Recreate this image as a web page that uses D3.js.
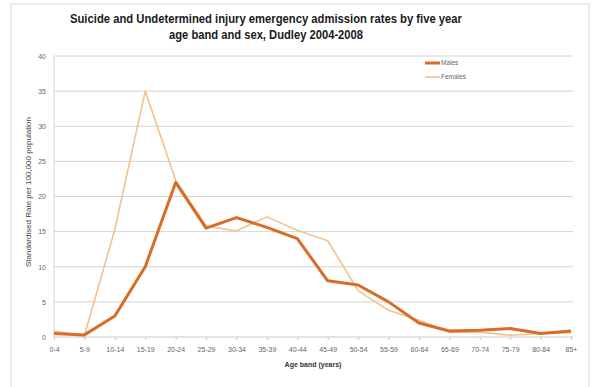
<!DOCTYPE html>
<html><head><meta charset="utf-8">
<script src="https://cdn.jsdelivr.net/npm/d3@7"></script>
<style>body{margin:0;background:#fff}svg{display:block;font-family:"Liberation Sans",Arial,sans-serif}</style>
</head><body>
<svg id="c" width="595" height="387"></svg>
<script>
const categories = ["0-4","5-9","10-14","15-19","20-24","25-29","30-34","35-39","40-44","45-49","50-54","55-59","60-64","65-69","70-74","75-79","80-84","85+"];
const males   = [0.5,0.3,3,10,22,15.5,17,15.6,14,8,7.4,5,2,0.85,0.95,1.2,0.5,0.85];
const females = [0.8,0.2,15.3,35,22.3,15.8,15.1,17.1,15.2,13.7,6.6,3.8,2.4,0.7,0.7,0.25,0.5,0.6];
const yTicks = [0,5,10,15,20,25,30,35,40];
const seriesNames = ["Males","Females"];

const svg = d3.select("#c");
svg.append("rect").attr("x",11).attr("y",4).attr("width",578).attr("height",386)
  .attr("fill","#fff").attr("stroke","#d9d9d9").attr("stroke-width",1);

const x = d3.scalePoint().domain(categories).range([54,571]);
const y = d3.scaleLinear().domain([0,40]).range([337,56]);

svg.append("g").selectAll("line").data(yTicks.filter(d=>d>0)).join("line")
  .attr("x1",54).attr("x2",573).attr("y1",d=>y(d)).attr("y2",d=>y(d))
  .attr("stroke","#d4d4d4").attr("stroke-width",1);
svg.append("line").attr("x1",54).attr("x2",54).attr("y1",y(40)).attr("y2",y(0)).attr("stroke","#d4d4d4");

const ya = svg.append("g").attr("transform","translate(54,0)")
  .call(d3.axisLeft(y).tickValues(yTicks).tickSize(0).tickPadding(8));
ya.select(".domain").remove();
ya.selectAll("text").attr("fill","#666").attr("font-size",7).attr("font-family","Liberation Sans, Arial, sans-serif");

const xa = svg.append("g").attr("transform","translate(0,337)")
  .call(d3.axisBottom(x).tickSize(3).tickPadding(7));
xa.select(".domain").attr("stroke","#c8c8c8").attr("d","M54,0H573");
xa.selectAll(".tick line").attr("stroke","#c8c8c8");
xa.selectAll("text").attr("fill","#666").attr("font-size",7).attr("font-family","Liberation Sans, Arial, sans-serif");

const line = d3.line().x((d,i)=>x(categories[i])).y(d=>y(d));
svg.append("path").datum(females).attr("d",line).attr("fill","none")
  .attr("stroke","#f5c08c").attr("stroke-width",1.6).attr("stroke-linejoin","round");
svg.append("path").datum(males).attr("d",line).attr("fill","none")
  .attr("stroke","#d76d26").attr("stroke-width",3).attr("stroke-linejoin","round");

const lg = svg.append("g");
[[63,"#d76d26",3],[77,"#f5c08c",1.6]].forEach((s,i)=>{
  lg.append("line").attr("x1",425).attr("x2",440).attr("y1",s[0]).attr("y2",s[0]).attr("stroke",s[1]).attr("stroke-width",s[2]);
  lg.append("text").attr("x",441).attr("y",s[0]+2.3).attr("font-size",6.5).attr("fill","#666").text(seriesNames[i]);
});

const t1 = svg.append("text").attr("x",266).attr("y",23).attr("text-anchor","middle")
  .attr("font-size",12).attr("font-weight","bold").attr("fill","#1a1a1a")
  .text("Suicide and Undetermined injury emergency admission rates by five year");
const t2 = svg.append("text").attr("x",266).attr("y",39).attr("text-anchor","middle")
  .attr("font-size",12).attr("font-weight","bold").attr("fill","#1a1a1a")
  .text("age band and sex, Dudley 2004-2008");
t1.attr("textLength",392).attr("lengthAdjust","spacingAndGlyphs");
t2.attr("textLength",194).attr("lengthAdjust","spacingAndGlyphs");

svg.append("text").attr("x",313).attr("y",367).attr("text-anchor","middle")
  .attr("font-size",7).attr("font-weight","bold").attr("fill","#333").text("Age band (years)");
svg.append("text").attr("transform","translate(31,192) rotate(-90)").attr("text-anchor","middle")
  .attr("font-size",7).attr("fill","#444").attr("textLength",150).attr("lengthAdjust","spacingAndGlyphs")
  .text("Standardised Rate per 100,000 population");
</script>
</body></html>
